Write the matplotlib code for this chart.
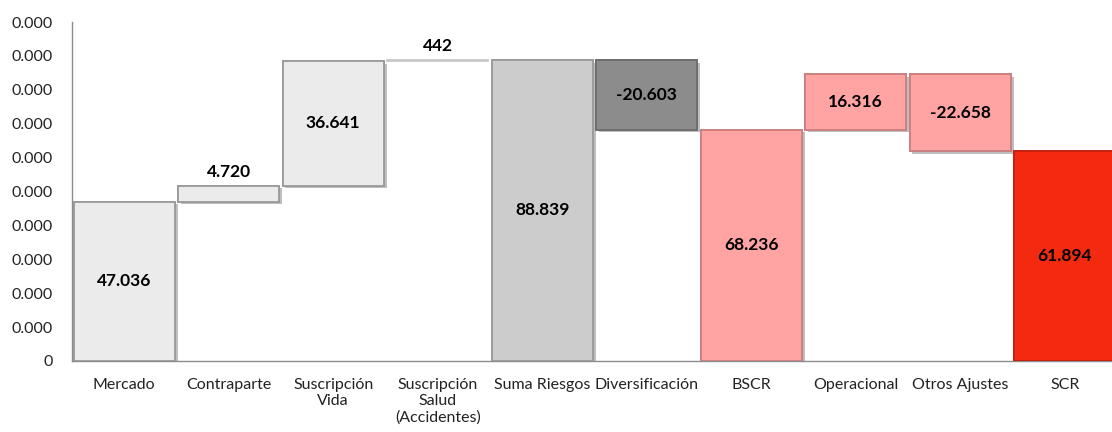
import matplotlib
matplotlib.use("Agg")
import matplotlib.pyplot as plt
import matplotlib.patheffects as pe

categories = ["Mercado", "Contraparte", "Suscripción\nVida", "Suscripción\nSalud\n(Accidentes)",
              "Suma Riesgos", "Diversificación", "BSCR", "Operacional", "Otros Ajustes", "SCR"]
values = [47036, 4720, 36641, 442, 88839, -20603, 68236, 16316, -22658, 61894]
is_total = [False, False, False, False, True, False, True, False, False, True]
labels = ["47.036", "4.720", "36.641", "442", "88.839", "-20.603", "68.236", "16.316", "-22.658", "61.894"]
ytick_values = [0, 10000, 20000, 30000, 40000, 50000, 60000, 70000, 80000, 90000, 100000]
ytick_labels = ["0"] + ["0.000"] * 10

colors = ["#ebebeb", "#ebebeb", "#ebebeb", "#ffffff", "#cccccc", "#8c8c8c",
          "#ffa3a3", "#ffa3a3", "#ffa3a3", "#f42a10"]
edges = ["#9a9a9a", "#9a9a9a", "#9a9a9a", "#c8c8c8", "#9a9a9a", "#6e6e6e",
         "#c98080", "#c98080", "#c98080", "#c02010"]

plt.rcParams['font.family'] = ['Lato', 'DejaVu Sans']

fig = plt.figure(figsize=(11.12, 4.32), dpi=100)
ax = fig.add_axes([72 / 1112, (432 - 361) / 432, 1045 / 1112, (361 - 22) / 432])

running = 0
bottoms, heights = [], []
for v, t in zip(values, is_total):
    if t:
        bottoms.append(0)
        heights.append(v)
        running = v
    else:
        if v >= 0:
            bottoms.append(running)
            heights.append(v)
        else:
            bottoms.append(running + v)
            heights.append(-v)
        running += v

x = list(range(len(categories)))
bars = ax.bar(x, heights, bottom=bottoms, width=0.97, color=colors, edgecolor=edges,
              linewidth=1.3, zorder=3)
for i, b in enumerate(bars):
    if i != 3:
        b.set_path_effects([pe.withSimplePatchShadow(offset=(2, -2), shadow_rgbFace='#808080', alpha=0.5),
                            pe.Normal()])

for i in range(len(categories)):
    if heights[i] < 6000:
        y = bottoms[i] + heights[i] + 1600
        va = 'bottom'
    else:
        y = bottoms[i] + heights[i] / 2
        va = 'center'
    ax.text(x[i], y, labels[i], ha='center', va=va, fontsize=12.5, fontweight='bold',
            color='black', zorder=5)

ax.set_xlim(-0.5, len(categories) - 0.5)
ax.set_ylim(0, 100000)
ax.set_yticks(ytick_values)
ax.set_yticklabels(ytick_labels, fontsize=11.5)
ax.set_xticks(x)
ax.set_xticklabels(categories, fontsize=11.5, linespacing=1.2)
ax.tick_params(axis='both', length=0, colors='#222222')
ax.tick_params(axis='x', pad=12)
ax.tick_params(axis='y', pad=14)
for s in ['top', 'right']:
    ax.spines[s].set_visible(False)
for s in ['left', 'bottom']:
    ax.spines[s].set_color('#8c8c8c')
    ax.spines[s].set_linewidth(1.0)

fig.savefig("out.png", dpi=100)
